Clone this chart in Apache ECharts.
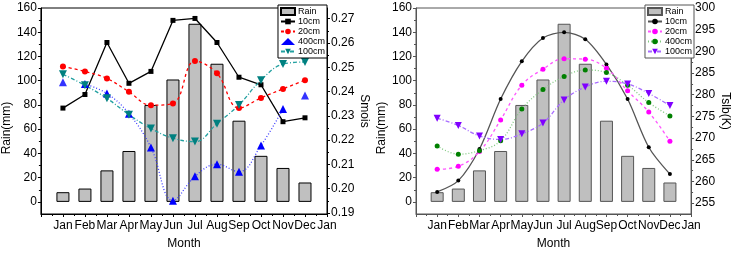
<!DOCTYPE html>
<html>
<head>
<meta charset="utf-8">
<script src="https://cdn.jsdelivr.net/npm/echarts@6/dist/echarts.min.js"></script>
<style>
  html, body { margin: 0; padding: 0; background: #fff; }
  #main { width: 732px; height: 255px; }
</style>
</head>
<body>
<div id="main"></div>
<script>
// month labels, x = 1..13 (the last "Jan" closes the axis)
var monthLabels = ['Jan', 'Feb', 'Mar', 'Apr', 'May', 'Jun', 'Jul', 'Aug', 'Sep', 'Oct', 'Nov', 'Dec', 'Jan'];
var rain = [8, 11, 26, 42, 80, 101, 147, 114, 67, 38, 28, 16];

// left panel: soil moisture
var smois10 = [0.2332, 0.2388, 0.2602, 0.2434, 0.2483, 0.2693, 0.2701, 0.2602, 0.2459, 0.2428, 0.2276, 0.2292];
var smois20 = [0.2503, 0.2483, 0.2454, 0.2399, 0.2344, 0.2351, 0.2526, 0.2475, 0.2332, 0.2374, 0.2411, 0.2447];
var smois400 = [0.2438, 0.2431, 0.2392, 0.2309, 0.2170, 0.1951, 0.2051, 0.2101, 0.2070, 0.2178, 0.2328, 0.2384];
var smois100 = [0.2471, 0.2426, 0.2372, 0.2305, 0.2248, 0.2208, 0.2194, 0.2268, 0.2345, 0.2447, 0.2513, 0.2522];

// right panel: soil temperature (K)
var tslb10 = [257.6, 260.2, 267.5, 279.0, 287.7, 293.1, 294.4, 292.8, 287.0, 279.0, 267.9, 261.7];
var tslb20 = [262.8, 263.5, 266.9, 274.2, 282.2, 285.9, 288.3, 288.2, 286.1, 280.9, 276.0, 269.3];
var tslb400 = [268.2, 266.3, 267.1, 269.4, 276.7, 281.2, 284.2, 285.7, 285.1, 282.2, 278.2, 275.1];
var tslb100 = [274.6, 272.9, 270.5, 269.7, 271.0, 273.5, 278.8, 281.8, 283.1, 282.5, 280.3, 277.5];

var rainTicks = [0, 20, 40, 60, 80, 100, 120, 140, 160];
var rainMinor = [10, 30, 50, 70, 90, 110, 130, 150];
var smoisTicks = [0.19, 0.20, 0.21, 0.22, 0.23, 0.24, 0.25, 0.26, 0.27];
var smoisMinor = [0.195, 0.205, 0.215, 0.225, 0.235, 0.245, 0.255, 0.265];
var tslbTicks = [255, 260, 265, 270, 275, 280, 285, 290, 295, 300];
var tslbMinor = [257.5, 262.5, 267.5, 272.5, 277.5, 282.5, 287.5, 292.5, 297.5];

var FONT = 'Liberation Sans, Arial, sans-serif';

function pts(arr) {
  return arr.map(function (v, i) { return [i + 1, v]; });
}

function xAxisFor(grid, color) {
  return {
    type: 'value', gridIndex: grid, min: 0, max: 13, interval: 1,
    name: 'Month', nameLocation: 'middle', nameGap: 24,
    nameTextStyle: { fontFamily: FONT, fontSize: 12, color: '#000' },
    axisLine: { onZero: false, lineStyle: { color: color, width: 1 } },
    axisTick: { length: 3, lineStyle: { color: color } },
    minorTick: { show: true, splitNumber: 2, length: 2, lineStyle: { color: color } },
    splitLine: { show: false },
    axisLabel: {
      fontFamily: FONT, fontSize: 12, color: '#000', margin: 6,
      formatter: function (v) { return v >= 1 ? monthLabels[v - 1] : ''; }
    }
  };
}

function yAxisFor(grid, pos, min, max, ticks, color, name, fmt, nameGap, pad) {
  return {
    type: 'value', gridIndex: grid, position: pos, min: min, max: max,
    name: name, nameLocation: 'middle', nameGap: nameGap,
    nameRotate: pos === 'left' ? 90 : -90,
    nameTextStyle: { fontFamily: FONT, fontSize: 12, color: '#000', padding: pad },
    axisLine: { show: true, lineStyle: { color: color, width: 1 } },
    axisTick: { show: true, length: 3, customValues: ticks, lineStyle: { color: color } },
    splitLine: { show: false },
    axisLabel: { fontFamily: FONT, fontSize: 12, color: '#000', margin: 4, customValues: ticks, formatter: fmt }
  };
}

function minorAxis(grid, pos, min, max, ticks, color) {
  return {
    type: 'value', gridIndex: grid, position: pos, min: min, max: max,
    axisLine: { show: false },
    axisTick: { show: true, length: 2, customValues: ticks, lineStyle: { color: color } },
    axisLabel: { show: false, customValues: ticks },
    splitLine: { show: false }
  };
}

var chart = echarts.init(document.getElementById('main'));

var legendBase = {
  orient: 'vertical', top: 5, borderColor: '#000', borderWidth: 1,
  backgroundColor: '#fff', padding: [2, 2, 2, 2], itemGap: 1,
  itemWidth: 14, itemHeight: 7,
  textStyle: { fontFamily: FONT, fontSize: 9, color: '#000', lineHeight: 9, padding: [0, 0, 0, -2] },
  formatter: function (n) { return n.trim(); }
};

chart.setOption({
  animation: false,
  backgroundColor: '#fff',
  grid: [
    { left: 40, top: 8, width: 287, height: 212, show: true, borderColor: '#000', borderWidth: 1 },
    { left: 416, top: 8, width: 278, height: 212, show: true, borderColor: '#555', borderWidth: 1 }
  ],
  legend: [
    Object.assign({}, legendBase, {
      right: 405,
      data: [
        { name: 'Rain', icon: 'rect' }, '10cm', '20cm',
        { name: '400cm', icon: 'triangle' }, '100cm'
      ]
    }),
    Object.assign({}, legendBase, {
      right: 38, borderColor: '#555',
      data: [{ name: 'Rain ', icon: 'rect' }, '10cm ', '20cm ', '400cm ', '100cm ']
    })
  ],
  xAxis: [xAxisFor(0, '#000'), xAxisFor(1, '#555')],
  yAxis: [
    yAxisFor(0, 'left', -10, 160, rainTicks, '#000', 'Rain(mm)', null, 26, [0, 34, 0, 0]),
    yAxisFor(0, 'right', 0.1896, 0.2744, smoisTicks, '#000', 'Smois',
      function (v) { return v.toFixed(2); }, 27, [0, 0, 0, 0]),
    yAxisFor(1, 'left', -10, 160, rainTicks, '#555', 'Rain(mm)', null, 26, [0, 34, 0, 0]),
    yAxisFor(1, 'right', 252.5, 300, tslbTicks, '#555', 'Tslb(K)', null, 24, [0, 0, 0, 0]),
    minorAxis(0, 'left', -10, 160, rainMinor, '#000'),
    minorAxis(0, 'right', 0.1896, 0.2744, smoisMinor, '#000'),
    minorAxis(1, 'left', -10, 160, rainMinor, '#555'),
    minorAxis(1, 'right', 252.5, 300, tslbMinor, '#555')
  ],
  series: [
    // ---- left panel ----
    {
      name: 'Rain', type: 'bar', xAxisIndex: 0, yAxisIndex: 0, barWidth: 13,
      data: pts(rain),
      itemStyle: { color: '#c0c0c0', borderColor: '#000', borderWidth: 1 }
    },
    {
      name: '10cm', type: 'line', xAxisIndex: 0, yAxisIndex: 1,
      data: pts(smois10), symbol: 'rect', symbolSize: 5,
      itemStyle: { color: '#000' }, lineStyle: { color: '#000', width: 1.3 }
    },
    {
      name: '20cm', type: 'line', xAxisIndex: 0, yAxisIndex: 1, smooth: 0.4,
      data: pts(smois20), symbol: 'circle', symbolSize: 6,
      itemStyle: { color: '#ff0000' }, lineStyle: { color: '#ff0000', width: 1.3, type: [3, 3] }
    },
    {
      name: '400cm', type: 'line', xAxisIndex: 0, yAxisIndex: 1, smooth: 0.4,
      data: pts(smois400).slice(1, 11), symbol: 'triangle', symbolSize: 8,
      itemStyle: { color: '#0000ff' }, lineStyle: { color: '#3c3cff', width: 1.3, type: [1, 2] }
    },
    {
      name: '400cm', type: 'scatter', xAxisIndex: 0, yAxisIndex: 1,
      data: [pts(smois400)[0], pts(smois400)[11]], symbol: 'triangle', symbolSize: 8,
      itemStyle: { color: '#0000ff' }
    },
    {
      name: '100cm', type: 'line', xAxisIndex: 0, yAxisIndex: 1, smooth: 0.4,
      data: pts(smois100), symbol: 'triangle', symbolRotate: 180, symbolSize: 8,
      itemStyle: { color: '#008080' }, lineStyle: { color: '#22a0a0', width: 1.3, type: [4, 2, 1, 2] }
    },
    // ---- right panel ----
    {
      name: 'Rain ', type: 'bar', xAxisIndex: 1, yAxisIndex: 2, barWidth: 13,
      data: pts(rain),
      itemStyle: { color: '#bfbfbf', borderColor: '#555', borderWidth: 1 }
    },
    {
      name: '10cm ', type: 'line', xAxisIndex: 1, yAxisIndex: 3, smooth: 0.3,
      data: pts(tslb10), symbol: 'circle', symbolSize: 4,
      itemStyle: { color: '#000' }, lineStyle: { color: '#555', width: 1.3 }
    },
    {
      name: '20cm ', type: 'line', xAxisIndex: 1, yAxisIndex: 3, smooth: 0.4,
      data: pts(tslb20), symbol: 'circle', symbolSize: 5,
      itemStyle: { color: '#ff00ff' }, lineStyle: { color: '#ff55ff', width: 1.3, type: [3, 3] }
    },
    {
      name: '400cm ', type: 'line', xAxisIndex: 1, yAxisIndex: 3, smooth: 0.4,
      data: pts(tslb400), symbol: 'circle', symbolSize: 5,
      itemStyle: { color: '#008000' }, lineStyle: { color: '#80c880', width: 1.3, type: [1, 2] }
    },
    {
      name: '100cm ', type: 'line', xAxisIndex: 1, yAxisIndex: 3, smooth: 0.4,
      data: pts(tslb100), symbol: 'triangle', symbolRotate: 180, symbolSize: 7,
      itemStyle: { color: '#8000ff' }, lineStyle: { color: '#a86cff', width: 1.3, type: [4, 2, 1, 2] }
    }
  ]
});
</script>
</body>
</html>
